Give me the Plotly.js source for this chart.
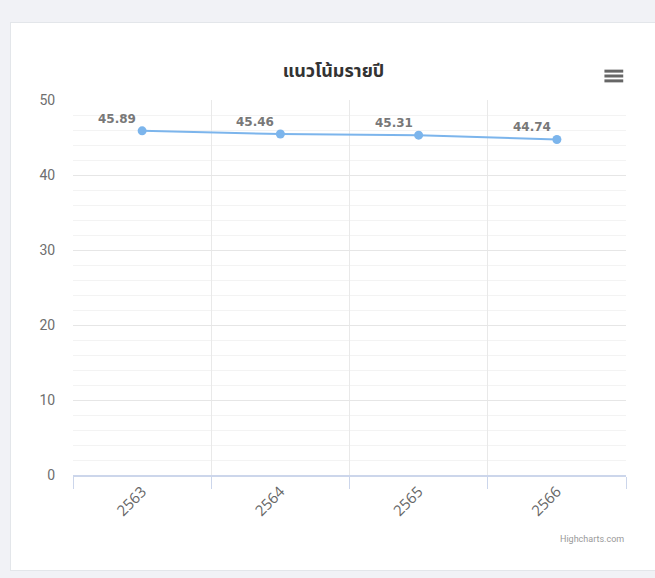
<!DOCTYPE html>
<html>
<head>
<meta charset="utf-8">
<script src="https://cdn.plot.ly/plotly-3.0.1.min.js"></script>
<style>
  html, body { margin: 0; padding: 0; background: #f1f2f6; width: 655px; height: 578px; overflow: hidden; }
  #card { position: absolute; left: 10px; top: 22px; width: 660px; height: 549px; background: #ffffff; border: 1px solid #e3e6ea; box-sizing: border-box; }
  #chart { position: absolute; left: 0; top: 0; width: 645px; height: 549px; }
</style>
</head>
<body>
<div id="card"><div id="chart"></div></div>
<script>
const years = ['2563', '2564', '2565', '2566'];
const values = [45.89, 45.46, 45.31, 44.74];
const labels = ['45.89', '45.46', '45.31', '44.74'];
const chartTitle = 'แนวโน้มรายปี';
const yTicks = [0, 10, 20, 30, 40, 50];

const trace = {
  type: 'scatter',
  mode: 'lines+markers',
  x: years,
  y: values,
  line: { color: '#7cb5ec', width: 2 },
  marker: { color: '#7cb5ec', size: 9 },
  hoverinfo: 'x+y'
};

const annotations = years.map((yr, i) => ({
  x: i, y: values[i], xref: 'x', yref: 'y',
  text: '<b>' + labels[i] + '</b>',
  showarrow: false, xanchor: 'center', yanchor: 'bottom',
  xshift: -25, yshift: 3,
  font: { family: 'DejaVu Sans, Verdana, sans-serif', size: 12, color: '#787878' }
}));
annotations.push({
  xref: 'paper', yref: 'paper', x: 1, y: -0.171,
  xanchor: 'right', yanchor: 'middle', showarrow: false,
  text: 'Highcharts.com',
  font: { family: 'Liberation Sans Narrow, Roboto, sans-serif', size: 9, color: '#999999' }
});

const menuShapes = [1.077, 1.064, 1.051].map(yy => ({
  type: 'line', xref: 'paper', yref: 'paper',
  x0: 0.961, x1: 0.995, y0: yy, y1: yy,
  line: { color: '#666666', width: 3 }
}));

const layout = {
  width: 645, height: 549,
  margin: { l: 62, r: 30, t: 77, b: 97 },
  paper_bgcolor: 'rgba(0,0,0,0)',
  plot_bgcolor: '#ffffff',
  showlegend: false,
  title: {
    text: '<b>' + chartTitle + '</b>',
    x: 0.5, xref: 'container', xanchor: 'center',
    y: 1 - 48 / 549, yref: 'container', yanchor: 'middle',
    font: { family: 'Noto Sans Thai, Noto Sans, DejaVu Sans, sans-serif', size: 18, color: '#333333' }
  },
  xaxis: {
    type: 'category',
    range: [-0.5, 3.5],
    tickson: 'boundaries',
    ticks: 'outside', ticklen: 12, tickcolor: '#ccd6eb', tickwidth: 1,
    showgrid: true, gridcolor: '#e9e9e9', gridwidth: 1,
    showline: true, linecolor: '#ccd6eb', linewidth: 2,
    tickangle: -45,
    tickfont: { family: 'Open Sans, Roboto, sans-serif', size: 15, color: '#666666' },
    fixedrange: true
  },
  yaxis: {
    range: [0, 50],
    tickvals: yTicks,
    ticks: 'outside', ticklen: 14, tickcolor: 'rgba(0,0,0,0)',
    showgrid: true, gridcolor: '#e6e6e6', gridwidth: 1,
    minor: { dtick: 2, showgrid: true, gridcolor: '#f3f3f3', ticks: '' },
    zeroline: false, showline: false,
    tickfont: { family: 'Liberation Sans Narrow, Roboto, sans-serif', size: 14, color: '#6e6e6e' },
    fixedrange: true
  },
  annotations: annotations,
  shapes: menuShapes
};

Plotly.newPlot('chart', [trace], layout, { displayModeBar: false, staticPlot: false });
</script>
</body>
</html>
